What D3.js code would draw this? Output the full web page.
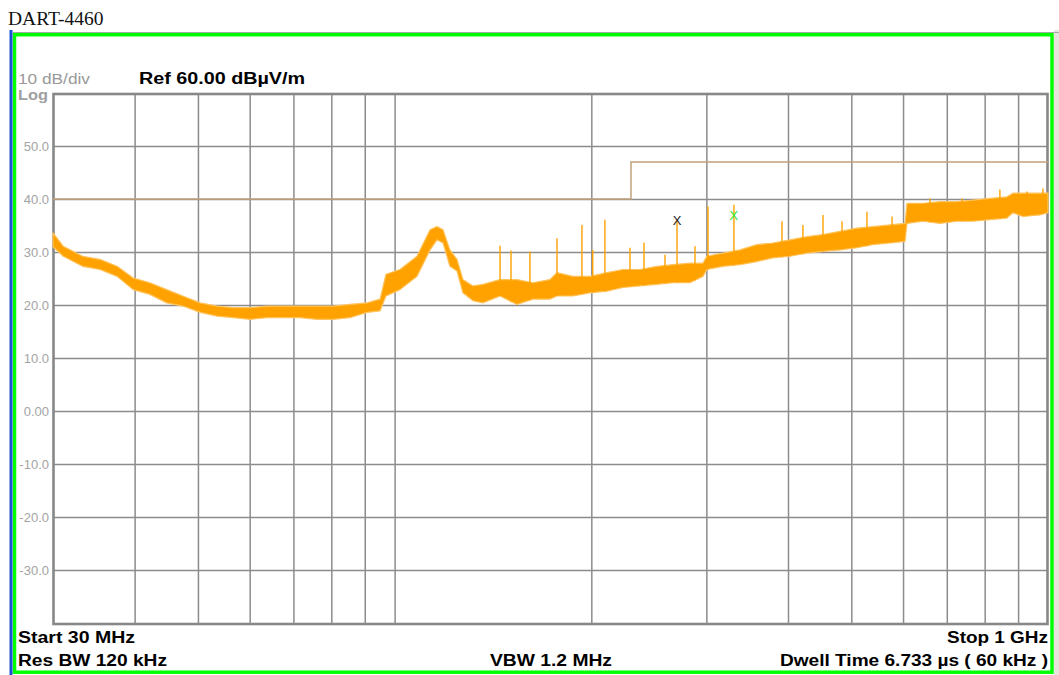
<!DOCTYPE html>
<html>
<head>
<meta charset="utf-8">
<script src="https://cdn.jsdelivr.net/npm/d3@7"></script>
<style>
  html, body { margin: 0; padding: 0; background: #fff; }
  svg { display: block; }
  text { font-family: 'Liberation Sans', Arial, sans-serif; }
</style>
</head>
<body>
<div id="chart"></div>
<script>
// Trace envelope: frequency (MHz), lower / upper level (dBµV/m)
const traceFreq = [30, 31.1, 33.3, 35.4, 37.6, 39.8, 42.2, 44.8, 47.4, 50.4, 53.5, 56.6, 60.1, 63.8, 67.5,
  71.6, 76.1, 80.5, 85.4, 90.7, 95.0, 97.0, 101.9, 108.2, 113.3, 116.1, 118.6, 121.5, 124.6, 127.2,
  131.8, 136.5, 145.0, 153.9, 162.8, 172.8, 177.2, 187.5, 199.0, 211.3, 223.6, 237.4, 252.1, 266.7,
  283.1, 296.4, 300.5, 318.1, 337.7, 358.6, 379.4, 402.8, 427.7, 452.5, 480.4, 510.0, 539.7, 573.0,
  604.2, 608.4, 643.7, 683.4, 725.5, 767.8, 814.9, 865.0, 883.7, 915.3, 971.8, 1000];
const traceLo = [31.0, 29.2, 27.3, 26.7, 25.4, 22.9, 22.0, 20.4, 19.8, 18.6, 17.9, 17.6, 17.3, 17.6, 17.6,
  17.6, 17.3, 17.3, 17.6, 18.6, 18.9, 21.7, 22.9, 25.4, 30.4, 32.3, 31.7, 27.3, 26.4, 22.3,
  20.8, 20.4, 21.7, 20.1, 21.1, 21.1, 21.7, 21.7, 22.3, 22.6, 23.3, 23.6, 23.9, 24.2,
  24.2, 25.4, 26.7, 27.3, 27.6, 28.2, 28.9, 29.2, 29.8, 30.1, 30.4, 30.8, 31.4, 31.7,
  32.0, 35.4, 35.8, 35.4, 35.8, 35.8, 36.1, 36.4, 37.4, 36.7, 37.0, 37.4];
const traceHi = [33.6, 31.1, 29.2, 28.6, 27.3, 25.1, 24.2, 22.9, 21.7, 20.4, 19.8, 19.5, 19.5, 19.8, 19.8,
  19.8, 19.8, 19.8, 20.1, 20.4, 21.1, 25.8, 26.7, 29.2, 34.2, 34.8, 34.2, 30.4, 28.6, 24.8,
  23.6, 23.9, 24.8, 24.8, 24.2, 24.8, 26.1, 25.4, 25.4, 26.1, 26.7, 26.7, 27.3, 27.6,
  27.9, 27.9, 29.2, 29.8, 30.4, 31.4, 31.7, 32.3, 32.9, 33.3, 33.9, 34.5, 34.8, 35.1,
  35.4, 39.2, 39.2, 39.5, 39.5, 39.8, 40.1, 40.4, 41.1, 41.1, 41.1, 41.1];

// Narrow spurious peaks: frequency (MHz), peak level
const spikeFreq = [145.0, 150.7, 161.1, 177.2, 193.5, 201, 209.8, 229.2, 240.8, 259.3, 270.5, 288.2,
  301.7, 330.6, 391.6, 421.6, 452.5, 483.9, 528.3, 577.2, 659.8, 738.7, 844.1, 928.6, 982.3];
const spikePeak = [31.2, 30.3, 30.1, 32.6, 35.1, 30.4, 36.1, 30.8, 31.8, 29.5, 36.1, 31.1,
  38.6, 38.9, 35.8, 35.1, 37.0, 35.8, 37.6, 36.7, 40.1, 40.1, 41.8, 41.4, 42.0];

// Limit line (dBµV/m)
const limitFreq = [30, 230, 1000];
const limitLevel = [40, 47, 47];

// Markers
const markerFreq = [270.5, 330.6];
const markerLevel = [36.0, 37.0];
const markerColor = ['#222222', '#33e633'];

const yTicks = [50, 40, 30, 20, 10, 0, -10, -20, -30];
const yTickLabels = ['50.0', '40.0', '30.0', '20.0', '10.0', '0.00', '-10.0', '-20.0', '-30.0'];
const xGridFreqs = [40, 50, 60, 70, 80, 90, 100, 200, 300, 400, 500, 600, 700, 800, 900];

const W = 1059, H = 675;
const margin = { top: 93, left: 53 };
const width = 1048 - 53;
const height = 623 - 93;

const svg = d3.select('#chart').append('svg')
  .attr('width', W)
  .attr('height', H);

svg.append('rect').attr('width', W).attr('height', H).attr('fill', '#fff');

// title
svg.append('text')
  .attr('x', 8).attr('y', 25)
  .style('font-family', "'Liberation Serif', 'DejaVu Serif', serif")
  .style('font-size', '19.5px')
  .attr('fill', '#111')
  .text('DART-4460');

// window frame
svg.append('rect').attr('x', 1054).attr('y', 30).attr('width', 5).attr('height', 645).attr('fill', '#e6e4dc');
svg.append('line').attr('x1', 13).attr('x2', 1059).attr('y1', 32.5).attr('y2', 32.5)
  .attr('stroke', '#a8a8a8').attr('stroke-width', 1);
svg.append('rect')
  .attr('x', 14.5).attr('y', 34.7).attr('width', 1037.5).attr('height', 637.5)
  .attr('fill', 'none').attr('stroke', '#00ff00').attr('stroke-width', 3.5);
svg.append('line').attr('x1', 11).attr('x2', 11).attr('y1', 30).attr('y2', 675)
  .attr('stroke', '#1a4fd6').attr('stroke-width', 3);

const g = svg.append('g').attr('transform', `translate(${margin.left},${margin.top})`);

const x = d3.scaleLog().domain([30, 1000]).range([0, width]);
const y = d3.scaleLinear().domain([-40, 60]).range([height, 0]);

// horizontal grid + labels
const yAxis = g.append('g')
  .call(d3.axisLeft(y)
    .tickValues(yTicks)
    .tickSize(-width)
    .tickPadding(4)
    .tickFormat((d, i) => yTickLabels[i]));
yAxis.select('.domain').remove();
yAxis.selectAll('line').attr('stroke', '#8c8c8c').attr('stroke-width', 1.5);
yAxis.selectAll('text')
  .attr('fill', '#a3a3a3')
  .style('font-size', '13px')
  .style('font-family', "'Liberation Sans', Arial, sans-serif");

// vertical grid
const xAxis = g.append('g')
  .attr('transform', `translate(0,${height})`)
  .call(d3.axisBottom(x)
    .tickValues(xGridFreqs)
    .tickSize(-height)
    .tickFormat(''));
xAxis.select('.domain').remove();
xAxis.selectAll('line').attr('stroke', '#8c8c8c').attr('stroke-width', 1.5);

// plot border
g.append('rect')
  .attr('x', 0.5).attr('y', 1).attr('width', width - 1).attr('height', height)
  .attr('fill', 'none').attr('stroke', '#888').attr('stroke-width', 2.6);

// limit line
const limitData = limitFreq.map((f, i) => ({ f: f, v: limitLevel[i] }));
g.append('path')
  .datum(limitData)
  .attr('fill', 'none')
  .attr('stroke', '#c0a27a')
  .attr('stroke-width', 1.5)
  .attr('d', d3.line().curve(d3.curveStepAfter).x(d => x(d.f)).y(d => y(d.v)));

// trace band
const traceData = traceFreq.map((f, i) => ({ f: f, lo: traceLo[i], hi: traceHi[i] }));
g.append('path')
  .datum(traceData)
  .attr('fill', '#ffa200')
  .attr('stroke', '#ffc35c')
  .attr('stroke-width', 1.2)
  .attr('stroke-linejoin', 'round')
  .attr('d', d3.area().x(d => x(d.f)).y0(d => y(d.lo)).y1(d => y(d.hi)));

// spikes, drawn down into the band
const bisect = d3.bisector(d => d.f).left;
spikeFreq.forEach((f, i) => {
  const j = Math.max(1, bisect(traceData, f));
  const a = traceData[j - 1], b = traceData[j];
  const t = (Math.log(f) - Math.log(a.f)) / (Math.log(b.f) - Math.log(a.f));
  const base = a.lo + (b.lo - a.lo) * t;
  g.append('line')
    .attr('x1', x(f)).attr('x2', x(f))
    .attr('y1', y(spikePeak[i])).attr('y2', y(base))
    .attr('stroke', '#ffa200')
    .attr('stroke-width', 1.4);
});

// markers
markerFreq.forEach((f, i) => {
  g.append('text')
    .attr('x', x(f)).attr('y', y(markerLevel[i]))
    .attr('dy', '0.36em')
    .attr('text-anchor', 'middle')
    .attr('fill', markerColor[i])
    .style('font-size', '13px')
    .text('X');
});

// header / footer annotations
const notes = [
  { t: '10 dB/div', x: 18, y: 84, len: 72, size: 15, weight: 'normal', fill: '#999', anchor: 'start' },
  { t: 'Log', x: 18, y: 100, len: 30, size: 15, weight: 'bold', fill: '#a0a0a0', anchor: 'start' },
  { t: 'Ref 60.00 dBµV/m', x: 139, y: 84, len: 166, size: 16, weight: 'bold', fill: '#000', anchor: 'start' },
  { t: 'Start 30 MHz', x: 18, y: 643, len: 117, size: 16, weight: 'bold', fill: '#000', anchor: 'start' },
  { t: 'Res BW 120 kHz', x: 18, y: 666, len: 149, size: 16, weight: 'bold', fill: '#000', anchor: 'start' },
  { t: 'VBW 1.2 MHz', x: 490, y: 666, len: 122, size: 16, weight: 'bold', fill: '#000', anchor: 'start' },
  { t: 'Stop 1 GHz', x: 947, y: 643, len: 101, size: 16, weight: 'bold', fill: '#000', anchor: 'start' },
  { t: 'Dwell Time 6.733 µs ( 60 kHz )', x: 780, y: 666, len: 268, size: 16, weight: 'bold', fill: '#000', anchor: 'start' },
];
notes.forEach(n => {
  svg.append('text')
    .attr('x', n.x).attr('y', n.y)
    .attr('textLength', n.len)
    .attr('lengthAdjust', 'spacingAndGlyphs')
    .attr('fill', n.fill)
    .style('font-size', n.size + 'px')
    .style('font-weight', n.weight)
    .text(n.t);
});
</script>
</body>
</html>
